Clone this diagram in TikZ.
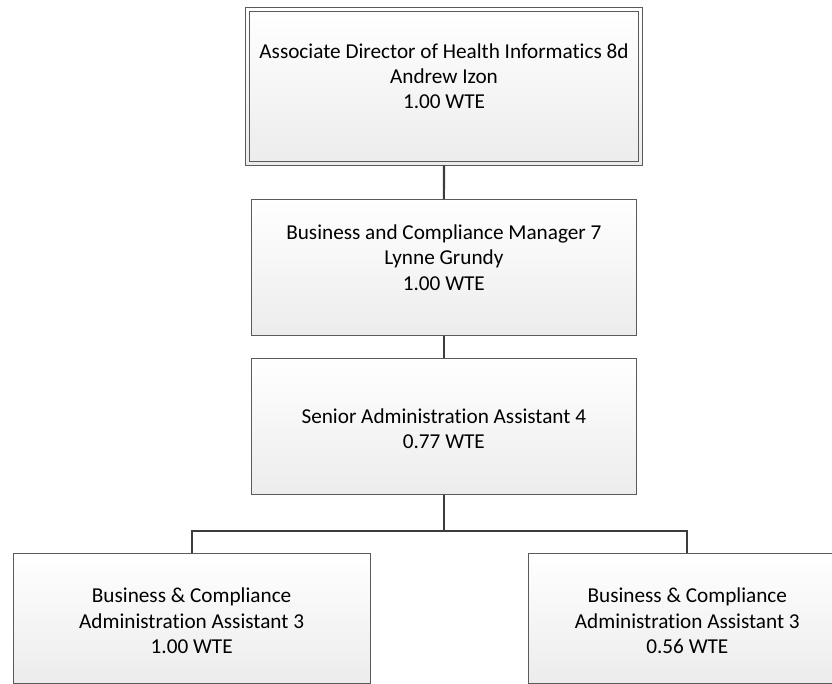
\documentclass[tikz,border=0pt]{standalone}
\usepackage{fontspec}
\setmainfont{Carlito}[Ligatures=NoCommon]
\usetikzlibrary{backgrounds}
\definecolor{boxline}{RGB}{90,90,90}
\definecolor{connc}{RGB}{60,60,60}
\definecolor{shadowc}{RGB}{224,224,224}
\definecolor{fillbot}{RGB}{236,236,236}
\newcommand{\tstr}{\rule{0pt}{20bp}}
\begin{document}
\begin{tikzpicture}[x=1bp,y=-1bp,
  orgbox/.style={draw=boxline, line width=0.9bp, rectangle, top color=white, bottom color=fillbot,
    inner sep=0pt, align=center, text=black, font=\fontsize{21.3}{25.5}\selectfont},
  connline/.style={draw=connc, line width=2.2bp},
  shadowbox/.style={fill=shadowc, draw=none}]
\useasboundingbox (0,0) rectangle (832,684);
\clip (0,0) rectangle (832,684);
\fill[white] (0,0) rectangle (832,684);

\node[orgbox, minimum width=396.6bp, minimum height=157.7bp] (top) at (444,86.15)
  {\tstr Associate Director of Health Informatics 8d\\Andrew Izon\\1.00 WTE\\\mbox{}};
\draw[draw=boxline, line width=0.9bp] ([shift={(4.3,4.7)}]top.north west) rectangle ([shift={(-4.6,-4.3)}]top.south east);

\node[orgbox, minimum width=385.7bp, minimum height=136.4bp] (mgr) at (443.85,267.5)
  {\tstr Business and Compliance Manager 7\\Lynne Grundy\\1.00 WTE\\\mbox{}};

\node[orgbox, minimum width=385.7bp, minimum height=136bp] (sen) at (443.85,426.3)
  {\tstr Senior Administration Assistant 4\\0.77 WTE};

\node[orgbox, minimum width=356.7bp, minimum height=130bp] (asstA) at (191.65,618.3)
  {\tstr Business \& Compliance\\Administration Assistant 3\\1.00 WTE};

\node[orgbox, minimum width=317.3bp, minimum height=130bp] (asstB) at (687.35,618.3)
  {\tstr Business \& Compliance\\Administration Assistant 3\\0.56 WTE};

\begin{scope}[on background layer]
  \foreach \n in {top,mgr,sen,asstA,asstB}
    \fill[shadowbox] ([shift={(3.5,3.5)}]\n.north west) rectangle ([shift={(3.5,3.5)}]\n.south east);
\end{scope}

\coordinate (bus) at (443.85,530.7);
\draw[connline] (top.south) -- (mgr.north);
\draw[connline] (mgr.south) -- (sen.north);
\draw[connline] (sen.south) -- (bus);
\draw[connline] (asstA.north) |- (bus -| asstB.north) -- (asstB.north);
\end{tikzpicture}
\end{document}
